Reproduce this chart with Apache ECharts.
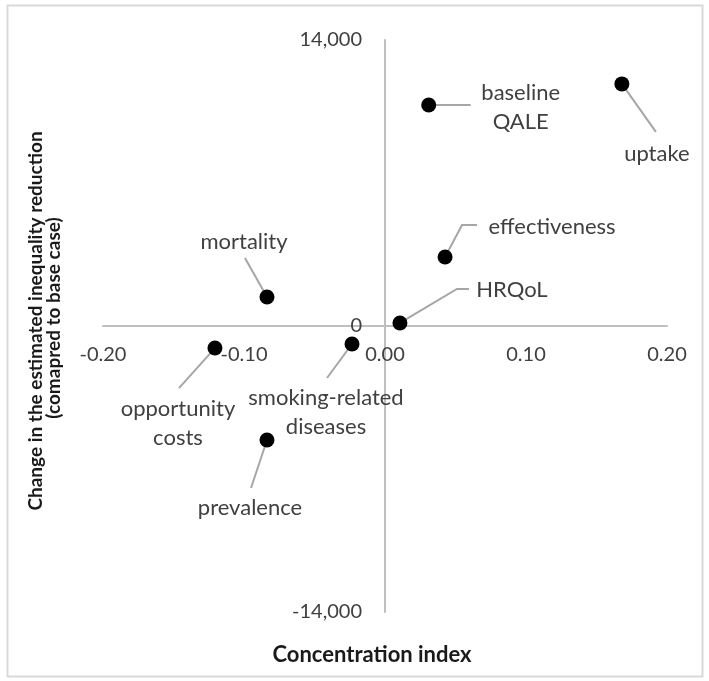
<!DOCTYPE html>
<html>
<head>
<meta charset="utf-8">
<script src="https://cdn.jsdelivr.net/npm/echarts@6/dist/echarts.min.js"></script>
<style>
html,body{margin:0;padding:0;background:#fff;}
#chart{width:709px;height:681px;}
</style>
</head>
<body>
<div id="chart"></div>
<script>
// ---- data ----
var pointNames = ['uptake', 'baseline\nQALE', 'effectiveness', 'HRQoL', 'mortality', 'opportunity\ncosts', 'smoking-related\ndiseases', 'prevalence'];
var concentrationIndex = [0.168, 0.031, 0.0426, 0.0106, -0.0837, -0.1206, -0.0234, -0.0837];
var inequalityChange = [11850, 10820, 3380, 150, 1420, -1080, -880, -5580];
var xTicks = [-0.2, -0.1, 0, 0.1, 0.2];
var yTicks = [-14000, 0, 14000];
var xTitle = 'Concentration index';
var yTitleLines = ['Change in the estimated inequality reduction', '(comapred to base case)'];

// ---- label placement (pixel offsets from the point; styling only) ----
var labelStyle = {
  'uptake': {line: [[34, 48]], text: [35, 70]},
  'baseline\nQALE': {line: [[42, 0]], text: [92, 2]},
  'effectiveness': {line: [[17, -32], [32, -32]], text: [107, -30]},
  'HRQoL': {line: [[57, -34], [69, -34]], text: [112, -33]},
  'mortality': {line: [[-22, -39]], text: [-23, -55]},
  'opportunity\ncosts': {line: [[-36, 40]], text: [-37, 75]},
  'smoking-related\ndiseases': {line: [[-25, 34]], text: [-26, 68]},
  'prevalence': {line: [[-16, 48]], text: [-17, 68]}
};

var FONT = 'Lato';
var points = pointNames.map(function (n, i) { return [concentrationIndex[i], inequalityChange[i], n]; });

var GRID = {left: 103, right: 42, top: 40, bottom: 69};
var W = 709, H = 681;
var gridW = W - GRID.left - GRID.right, gridH = H - GRID.top - GRID.bottom;

var chart = echarts.init(document.getElementById('chart'), null, {renderer: 'canvas'});
chart.setOption({
  backgroundColor: '#fff',
  animation: false,
  grid: GRID,
  xAxis: {
    type: 'value', min: xTicks[0], max: xTicks[xTicks.length - 1], interval: 0.1,
    position: 'bottom', offset: -gridH / 2,
    axisLine: {onZero: false, lineStyle: {color: '#bfbfbf', width: 2}},
    axisTick: {show: false}, splitLine: {show: false},
    axisLabel: {margin: 19, color: '#404040', fontFamily: FONT, fontSize: 20,
      formatter: function (v) { return v.toFixed(2); }}
  },
  yAxis: {
    type: 'value', min: yTicks[0], max: yTicks[yTicks.length - 1], interval: 14000,
    position: 'left', offset: -gridW / 2,
    axisLine: {onZero: false, lineStyle: {color: '#bfbfbf', width: 2}},
    axisTick: {show: false}, splitLine: {show: false},
    axisLabel: {margin: 23, color: '#404040', fontFamily: FONT, fontSize: 20,
      formatter: function (v) { return v.toLocaleString('en-US'); }}
  },
  graphic: [
    {type: 'rect', shape: {x: 7.5, y: 5.5, width: 695, height: 671}, style: {fill: 'none', stroke: '#d9d9d9', lineWidth: 2}, silent: true, z: -1},
    {type: 'text', x: 372, y: 655, style: {text: xTitle, fontFamily: FONT, fontWeight: 'bold', fontSize: 22, fill: '#1a1a1a', align: 'center', verticalAlign: 'middle'}},
    {type: 'text', x: 36, y: 321, rotation: Math.PI / 2, style: {text: yTitleLines[0], fontFamily: FONT, fontWeight: 'bold', fontSize: 19, fill: '#1a1a1a', align: 'center', verticalAlign: 'middle'}},
    {type: 'text', x: 54, y: 318, rotation: Math.PI / 2, style: {text: yTitleLines[1], fontFamily: FONT, fontWeight: 'bold', fontSize: 19, fill: '#1a1a1a', align: 'center', verticalAlign: 'middle'}}
  ],
  series: [
    {
      type: 'custom',
      data: points,
      z: 1,
      renderItem: function (params, api) {
        var p = api.coord([api.value(0), api.value(1)]);
        var name = points[params.dataIndex][2];
        var st = labelStyle[name];
        var pts = [p].concat(st.line.map(function (d) { return [p[0] + d[0], p[1] + d[1]]; }));
        return {
          type: 'group',
          children: [
            {type: 'polyline', shape: {points: pts}, style: {stroke: '#a6a6a6', lineWidth: 2, fill: 'none'}},
            {type: 'text', x: p[0] + st.text[0], y: p[1] + st.text[1],
             style: {text: name, fontFamily: FONT, fontSize: 22, lineHeight: 29, fill: '#404040', align: 'center', verticalAlign: 'middle'}}
          ]
        };
      }
    },
    {
      type: 'scatter',
      data: points,
      z: 2,
      symbolSize: 15,
      itemStyle: {color: '#000', opacity: 1}
    }
  ]
});
</script>
</body>
</html>
